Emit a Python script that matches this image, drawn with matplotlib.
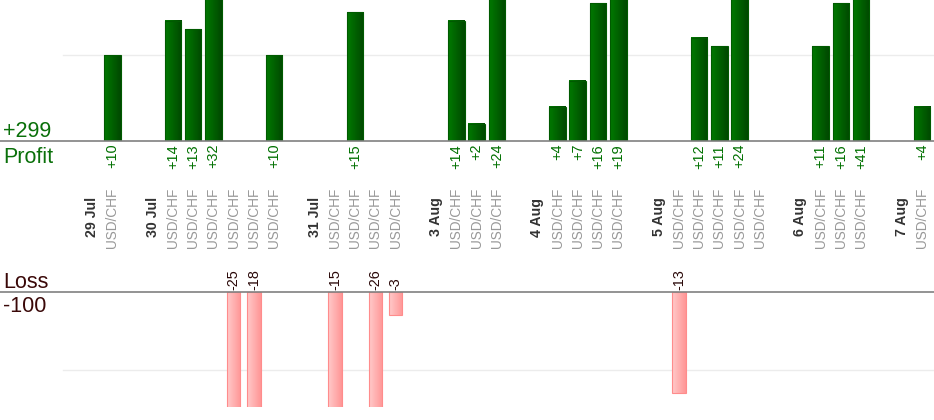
import numpy as np
import matplotlib.pyplot as plt
from matplotlib.colors import LinearSegmentedColormap
from matplotlib.transforms import blended_transform_factory

# trading results per day (one entry per USD/CHF trade)
days = ['29 Jul', '30 Jul', '31 Jul', '3 Aug', '4 Aug', '5 Aug', '6 Aug', '7 Aug']
trades = [
    [10],
    [14, 13, 32, -25, -18, 10],
    [-15, 15, -26, -3],
    [14, 2, 24],
    [4, 7, 16, 19],
    [-13, 12, 11, 24, 0],
    [11, 16, 41],
    [4],
]
pair = 'USD/CHF'
total_profit = '+299'
total_loss = '-100'

W, H = 934, 420
plt.rcParams['font.family'] = ['Liberation Sans', 'DejaVu Sans']


def fy(px):
    return 1 - px / H


# build slot sequence: date slot, trade slots, blank slot
slot_x = []
slot_val = []
date_x = []
pos = 0
for d, tr in zip(days, trades):
    date_x.append(pos)
    pos += 1
    for v in tr:
        slot_x.append(pos)
        slot_val.append(v)
        pos += 1
    pos += 1
slot_x = np.array(slot_x)
slot_val = np.array(slot_val)

slot_w = 20.24
x0 = 92
xlim = (-x0 / slot_w, (W - x0) / slot_w)

fig = plt.figure(figsize=(W / 100, H / 100), dpi=100)
ax_p = fig.add_axes([0, fy(141), 1, 141 / H])
ax_l = fig.add_axes([0, fy(407), 1, (407 - 292) / H])

green_cmap = LinearSegmentedColormap.from_list('g', ['#007a00', '#004800'])
red_cmap = LinearSegmentedColormap.from_list('r', ['#ffcaca', '#ff9696'])
grad = np.linspace(0, 1, 64).reshape(1, -1)

for x, v in zip(slot_x, slot_val):
    if v > 0:
        w = 0.82
        ax_p.imshow(grad, cmap=green_cmap, extent=[x - w / 2, x + w / 2, 0, v],
                    aspect='auto', interpolation='bilinear', zorder=2)
        ax_p.bar(x, v, width=w, facecolor='none', edgecolor='#005a00', lw=0.8, zorder=3)
    elif v < 0:
        w = 0.67
        ax_l.imshow(grad, cmap=red_cmap, extent=[x - w / 2, x + w / 2, v, 0],
                    aspect='auto', interpolation='bilinear', zorder=2)
        ax_l.bar(x, v, width=w, facecolor='none', edgecolor='#ff8c8c', lw=0.8, zorder=3)

ax_p.set_xlim(*xlim)
ax_p.set_ylim(0, 141 / 8.6)
ax_l.set_xlim(*xlim)
ax_l.set_ylim(-115 / 7.75, 0)

ax_p.axhline(10, xmin=63 / W, color='#ececec', lw=1, zorder=1)
ax_l.axhline(-10, xmin=63 / W, color='#ececec', lw=1, zorder=1)
ax_p.axhline(0, color='#808080', lw=1.2, zorder=4, clip_on=False)
ax_l.axhline(0, color='#808080', lw=1.2, zorder=4, clip_on=False)

for a in (ax_p, ax_l):
    a.axis('off')

tr = blended_transform_factory(ax_p.transData, fig.transFigure)

# value labels
for x, v in zip(slot_x, slot_val):
    if v > 0:
        ax_p.text(x, fy(144), '+' + str(v), transform=tr, rotation=90, ha='center',
                  va='top', fontsize=10.4, color='#007000', clip_on=False)
    elif v < 0:
        ax_p.text(x, fy(290), str(v), transform=tr, rotation=90, ha='center',
                  va='bottom', fontsize=10.4, color='#2a0808', clip_on=False)

# category labels
for x, d in zip(date_x, days):
    ax_p.text(x, fy(217), d, transform=tr, rotation=90,
              ha='center', va='center', fontsize=10.2, fontweight='bold',
              color='#333333', clip_on=False)
for x in slot_x:
    ax_p.text(x, fy(218), pair, transform=tr, rotation=90, ha='center',
              va='center', fontsize=9.8, color='#999999', clip_on=False)

fig.text(3 / W, fy(137), total_profit, fontsize=15.5, color='#0a700a', va='baseline')
fig.text(3 / W, fy(163), 'Profit', fontsize=15.5, color='#0a700a', va='baseline')
fig.text(3 / W, fy(288), 'Loss', fontsize=15.5, color='#3a0808', va='baseline')
fig.text(3 / W, fy(312), total_loss, fontsize=15.5, color='#3a0808', va='baseline')

fig.savefig('out.png', dpi=100)
